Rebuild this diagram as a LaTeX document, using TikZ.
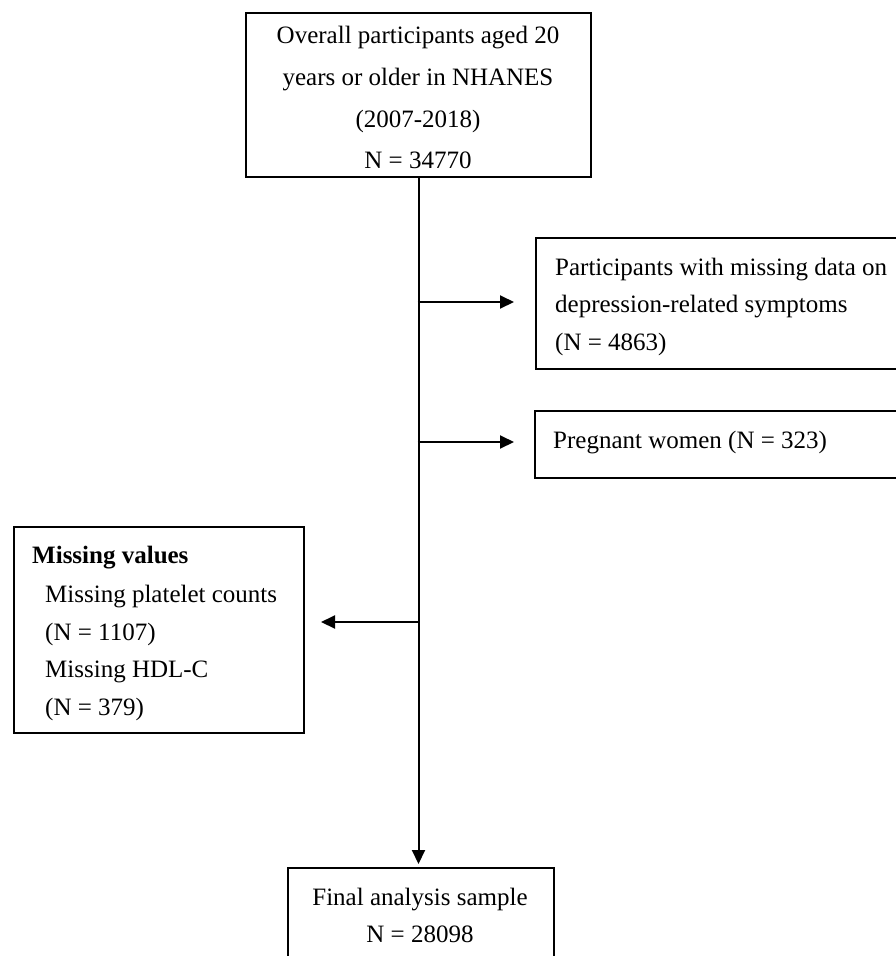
\documentclass[tikz,border=0pt]{standalone}
\usepackage{fontspec}
\setmainfont{Liberation Serif}
\usetikzlibrary{arrows.meta,calc}
\begin{document}
\begin{tikzpicture}[x=1pt,y=-1pt,
  box/.style={draw,line width=2pt,inner sep=0pt,anchor=north west},
  txt/.style={inner sep=0pt,font=\fontsize{25}{30}\selectfont},
  arr/.style={line width=2pt,-{Triangle[length=14pt,width=13pt]}}]
\useasboundingbox (0,0) rectangle (896,956);
\clip (0,0) rectangle (896,956);
\fill[white] (0,0) rectangle (896,956);
% boxes
\node[box,minimum width=345pt,minimum height=164pt] (top) at (245,12) {};
\node[box,minimum width=400pt,minimum height=131pt] (r1) at (535,237) {};
\node[box,minimum width=400pt,minimum height=67pt] (r2) at (534,410) {};
\node[box,minimum width=290pt,minimum height=206pt] (lb) at (13,526) {};
\node[box,minimum width=266pt,minimum height=120pt] (final) at (287,867) {};
% texts
\node[txt,anchor=base] (t1) at (418,43) {Overall participants aged 20};
\node[txt,anchor=base] (t2) at (418,85) {years or older in NHANES};
\node[txt,anchor=base] (t3) at (418,127) {(2007-2018)};
\node[txt,anchor=base] (t4) at (418,168) {N = 34770};
\node[txt,anchor=base west] (r1a) at (555,275) {Participants with missing data on};
\node[txt,anchor=base west] (r1b) at (555,312) {depression-related symptoms};
\node[txt,anchor=base west] (r1c) at (555,350) {(N = 4863)};
\node[txt,anchor=base west] (r2a) at (553,448) {Pregnant women (N = 323)};
\node[txt,anchor=base west,font=\fontsize{25}{30}\selectfont\bfseries] (la) at (32,563) {Missing values};
\node[txt,anchor=base west] (lb1) at (45,602) {Missing platelet counts};
\node[txt,anchor=base west] (lb2) at (45,640) {(N = 1107)};
\node[txt,anchor=base west] (lb3) at (45,677) {Missing HDL-C};
\node[txt,anchor=base west] (lb4) at (45,715) {(N = 379)};
\node[txt,anchor=base] (f1) at (420,905) {Final analysis sample};
\node[txt,anchor=base] (f2) at (420,942) {N = 28098};
% connectors
\draw[arr,shorten >=3pt] (top.south) -- (top.south |- final.north);
\coordinate (b1) at (417.5,302);
\coordinate (e1) at (514,302);
\coordinate (b2) at (417.5,442);
\coordinate (e2) at (514,442);
\coordinate (b3) at (417.5,622);
\coordinate (e3) at (321,622);
\draw[arr] (b1) -- (e1);
\draw[arr] (b2) -- (e2);
\draw[arr] (b3) -- (e3);
\end{tikzpicture}
\end{document}
